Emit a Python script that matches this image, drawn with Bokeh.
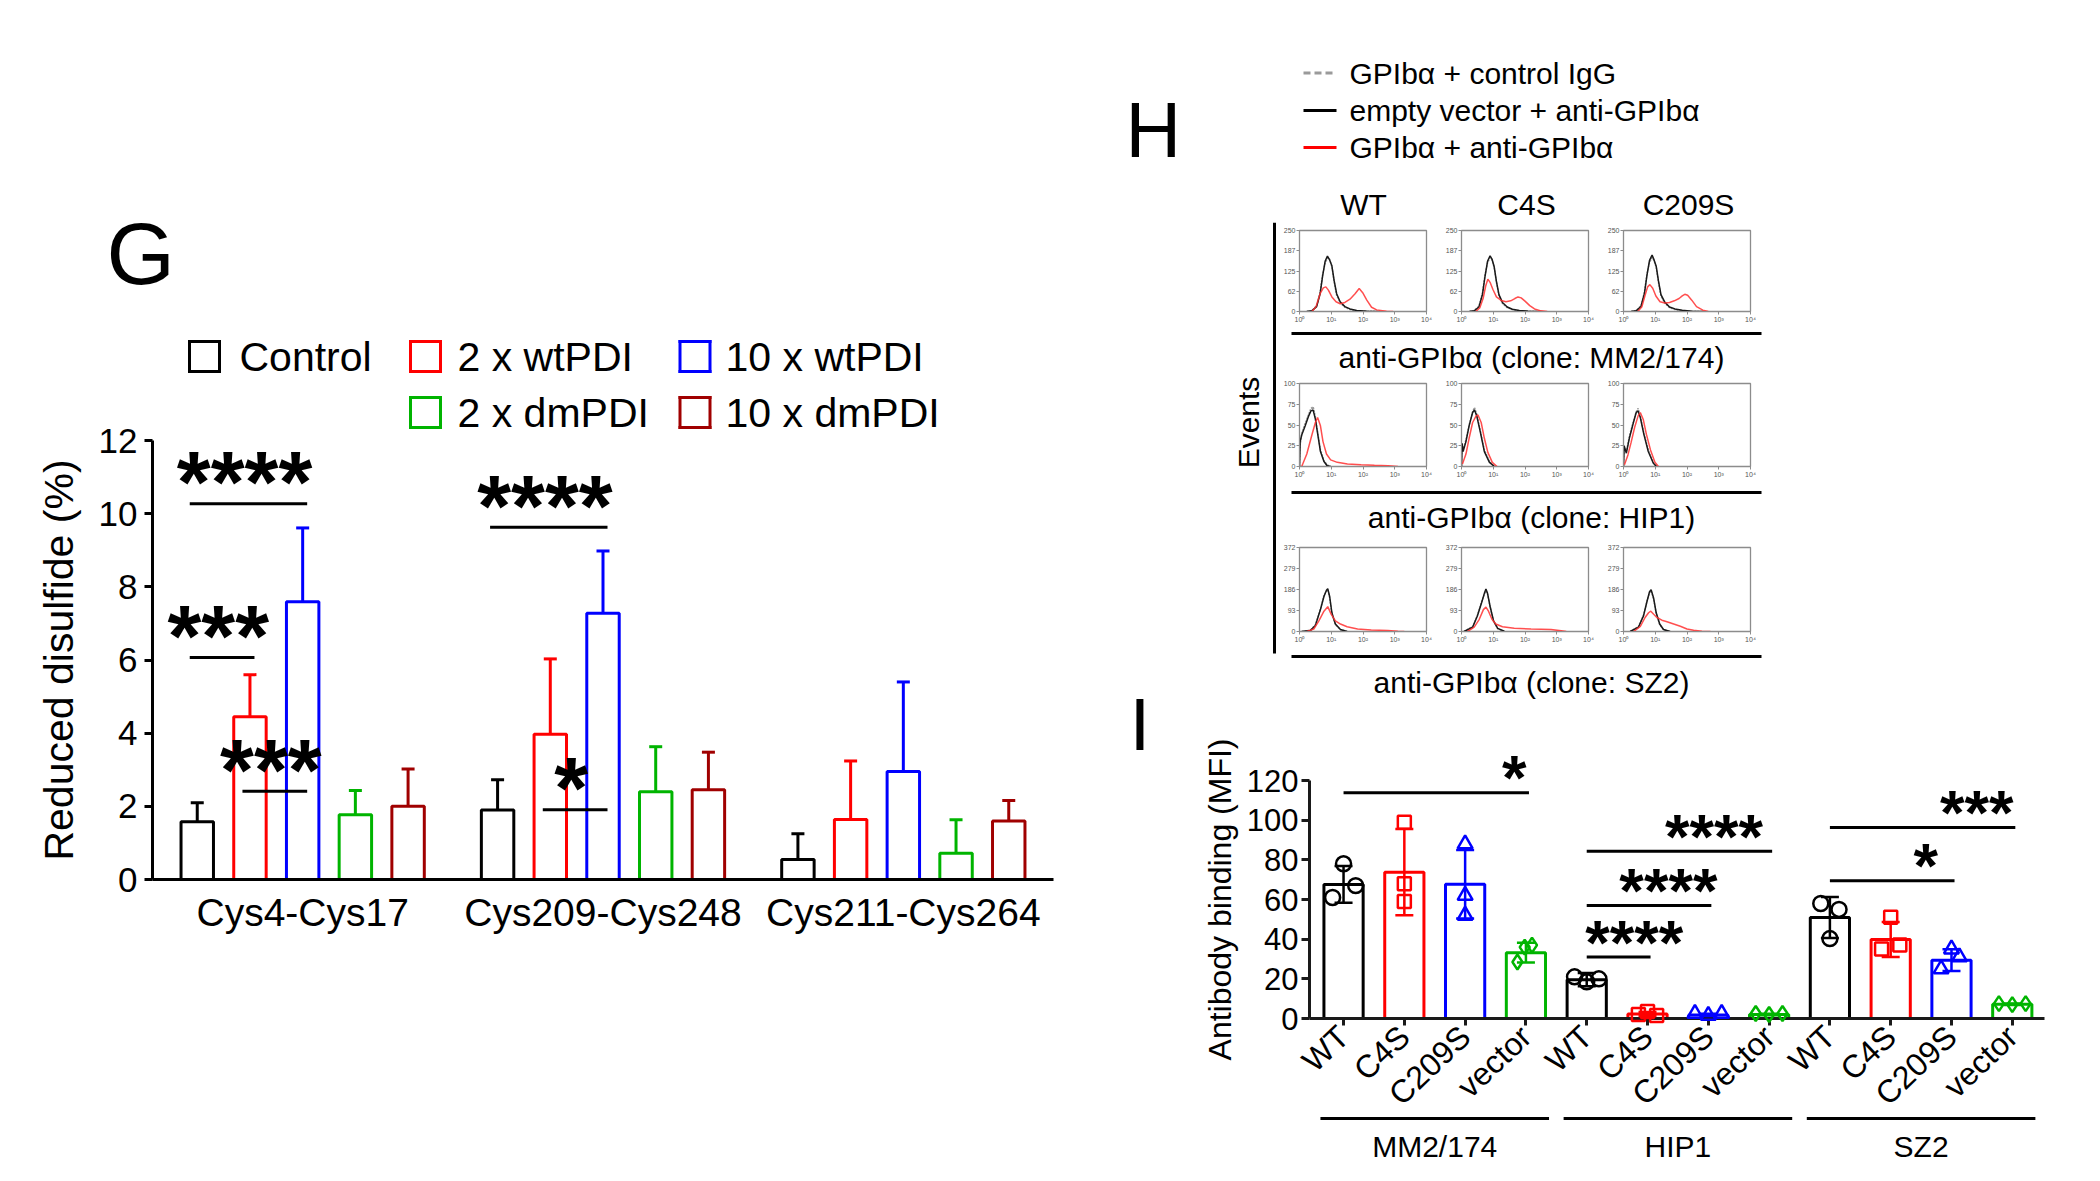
import math
from bokeh.plotting import figure
from bokeh.layouts import row, column
from bokeh.models import ColumnDataSource, FactorRange, Range1d, FixedTicker, Whisker, TeeHead
from bokeh.transform import dodge
from bokeh.core.properties import value
from bokeh.embed import file_html
from bokeh.resources import INLINE

FONT = "Liberation Sans"

# ======================= Panel G data =======================
g_sites = ["Cys4-Cys17", "Cys209-Cys248", "Cys211-Cys264"]
g_groups = ["Control", "2 x wtPDI", "10 x wtPDI", "2 x dmPDI", "10 x dmPDI"]
g_colors = ["#000000", "#ff0000", "#0000ff", "#00b400", "#a00000"]
g_control_mean = [1.58, 1.90, 0.55]
g_control_sd = [0.52, 0.83, 0.70]
g_wt2_mean = [4.45, 3.97, 1.64]
g_wt2_sd = [1.15, 2.06, 1.60]
g_wt10_mean = [7.59, 7.28, 2.95]
g_wt10_sd = [2.02, 1.70, 2.45]
g_dm2_mean = [1.77, 2.40, 0.72]
g_dm2_sd = [0.66, 1.23, 0.91]
g_dm10_mean = [2.00, 2.45, 1.60]
g_dm10_sd = [1.02, 1.03, 0.56]
g_sig_site = ["Cys4-Cys17", "Cys4-Cys17", "Cys4-Cys17", "Cys209-Cys248", "Cys209-Cys248"]
g_sig_from = [0, 0, 1, 0, 1]
g_sig_to = [2, 1, 2, 2, 2]
g_sig_y = [10.27, 6.07, 2.41, 9.63, 1.91]
g_sig_text = ["****", "***", "***", "****", "*"]

# ======================= Panel I data =======================
i_clones = ["MM2/174", "HIP1", "SZ2"]
i_mutants = ["WT", "C4S", "C209S", "vector"]
i_colors = ["#000000", "#ff0000", "#0000ff", "#00b400"]
i_markers = ["circle", "square", "triangle", "diamond"]
i_mean = [67.6, 73.8, 67.7, 33.2, 19.6, 2.3, 1.8, 2.0, 50.9, 39.8, 29.4, 7.2]
i_sd = [9.3, 21.8, 17.3, 5.0, 3.3, 1.0, 0.6, 0.4, 10.3, 8.8, 5.5, 0.4]
i_rep1 = [78, 99, 88, 37, 21, 2.0, 2.5, 2.5, 58, 51, 35, 7.5]
i_rep2 = [67, 68, 62, 36, 18.5, 3.5, 1.5, 2.0, 55, 35, 25, 7.0]
i_rep3 = [61, 59, 52, 28.5, 20, 1.5, 2.5, 2.5, 40.3, 37, 31, 7.5]
i_sig_from = [0, 4, 4, 4, 8, 8]
i_sig_to = [3, 5, 6, 7, 10, 11]
i_sig_y = [113.8, 31, 57, 84.3, 69.5, 96.3]
i_sig_text = ["*", "****", "****", "****", "*", "***"]

# ======================= Panel H data (x = log10 fluorescence) =======================
h_mm2_wt_x = [0.23, 0.39, 0.54, 0.65, 0.73, 0.81, 0.88, 0.94, 1.02, 1.09, 1.17, 1.28, 1.43, 1.59, 1.80, 2.12, 2.53]
h_mm2_wt_vector = [0, 2, 15, 55, 111, 156, 171, 161, 141, 96, 55, 30, 15, 8, 3, 1, 0]
h_mm2_wt_igg = [0, 3, 18, 60, 115, 150, 165, 163, 138, 92, 50, 27, 13, 6, 2, 1, 0]
h_mm2_wt_gp_x = [0.39, 0.52, 0.65, 0.75, 0.83, 0.91, 1.02, 1.15, 1.28, 1.43, 1.59, 1.75, 1.88, 1.99, 2.12, 2.27, 2.43, 2.74, 2.95]
h_mm2_wt_gp = [0, 15, 55, 73, 76, 66, 45, 30, 24, 28, 38, 55, 71, 58, 35, 13, 5, 1, 0]

h_mm2_c4s_x = [0.25, 0.40, 0.55, 0.66, 0.74, 0.82, 0.90, 0.96, 1.03, 1.10, 1.18, 1.29, 1.44, 1.60, 1.82, 2.10, 2.50]
h_mm2_c4s_vector = [0, 2, 14, 52, 108, 155, 172, 162, 138, 93, 52, 28, 14, 7, 3, 1, 0]
h_mm2_c4s_igg = [0, 3, 17, 58, 112, 150, 166, 160, 135, 90, 48, 25, 12, 6, 2, 1, 0]
h_mm2_c4s_gp_x = [0.45, 0.58, 0.68, 0.76, 0.83, 0.90, 0.99, 1.10, 1.25, 1.40, 1.55, 1.68, 1.78, 1.88, 2.00, 2.15, 2.30, 2.50, 2.70]
h_mm2_c4s_gp = [0, 12, 40, 78, 100, 90, 68, 45, 34, 30, 33, 40, 45, 42, 32, 18, 8, 2, 0]

h_mm2_c209s_x = [0.24, 0.40, 0.55, 0.66, 0.74, 0.82, 0.90, 0.96, 1.03, 1.10, 1.18, 1.30, 1.45, 1.62, 1.85, 2.15, 2.50]
h_mm2_c209s_vector = [0, 2, 15, 56, 112, 158, 174, 160, 140, 95, 52, 29, 14, 8, 4, 1, 0]
h_mm2_c209s_igg = [0, 3, 18, 60, 116, 152, 166, 158, 136, 90, 48, 26, 12, 6, 2, 1, 0]
h_mm2_c209s_gp_x = [0.45, 0.58, 0.68, 0.76, 0.83, 0.92, 1.02, 1.15, 1.30, 1.45, 1.60, 1.75, 1.85, 1.93, 2.02, 2.15, 2.30, 2.50, 2.67]
h_mm2_c209s_gp = [0, 15, 50, 76, 83, 72, 48, 30, 26, 28, 33, 40, 48, 53, 50, 35, 15, 4, 0]

h_hip1_wt_x = [0.0, 0.02, 0.07, 0.18, 0.29, 0.36, 0.43, 0.50, 0.57, 0.66, 0.77, 0.87, 0.98]
h_hip1_wt_vector = [0, 30, 38, 49, 61, 67, 68, 57, 40, 18, 6, 1, 0]
h_hip1_wt_igg = [0, 25, 40, 52, 63, 70, 72, 60, 42, 20, 7, 2, 0]
h_hip1_wt_gp_x = [0.07, 0.23, 0.39, 0.50, 0.57, 0.66, 0.74, 0.85, 0.98, 1.19, 1.51, 1.94, 2.36, 2.79, 3.10]
h_hip1_wt_gp = [0, 15, 38, 53, 59, 49, 30, 15, 8, 5, 3, 2, 1.5, 1, 0]

h_hip1_c4s_x = [0.0, 0.02, 0.05, 0.14, 0.24, 0.35, 0.41, 0.48, 0.59, 0.72, 0.88, 1.04]
h_hip1_c4s_vector = [0, 28, 18, 30, 49, 65, 68, 61, 42, 18, 5, 0]
h_hip1_c4s_igg = [0, 25, 20, 32, 50, 66, 71, 63, 44, 20, 6, 0]
h_hip1_c4s_gp_x = [0.03, 0.14, 0.24, 0.35, 0.46, 0.52, 0.62, 0.72, 0.83, 0.97, 1.12]
h_hip1_c4s_gp = [3, 15, 34, 53, 61, 62, 53, 34, 17, 5, 0]

h_hip1_c209s_x = [0.0, 0.02, 0.09, 0.19, 0.30, 0.40, 0.46, 0.53, 0.64, 0.78, 0.94, 1.04]
h_hip1_c209s_vector = [0, 25, 16, 35, 51, 65, 67, 59, 39, 18, 4, 0]
h_hip1_c209s_igg = [0, 22, 18, 37, 53, 66, 70, 61, 41, 20, 5, 0]
h_hip1_c209s_gp_x = [0.03, 0.14, 0.24, 0.35, 0.46, 0.53, 0.62, 0.72, 0.85, 0.99, 1.10]
h_hip1_c209s_gp = [2, 14, 29, 47, 61, 65, 57, 39, 20, 5, 0]

h_sz2_wt_x = [0.07, 0.34, 0.50, 0.66, 0.77, 0.85, 0.89, 0.95, 1.02, 1.13, 1.29, 1.50]
h_sz2_wt_vector = [0, 4, 26, 97, 155, 183, 190, 155, 83, 33, 9, 0]
h_sz2_wt_igg = [0, 6, 30, 100, 160, 180, 185, 150, 80, 30, 8, 0]
h_sz2_wt_gp_x = [0.23, 0.45, 0.61, 0.77, 0.89, 1.00, 1.13, 1.29, 1.50, 1.83, 2.26, 2.78, 3.10, 3.30]
h_sz2_wt_gp = [0, 11, 47, 90, 110, 76, 47, 33, 21, 11, 7, 4, 1, 0]

h_sz2_c4s_x = [0.08, 0.35, 0.50, 0.63, 0.72, 0.77, 0.82, 0.90, 1.01, 1.14, 1.35]
h_sz2_c4s_vector = [0, 19, 69, 126, 169, 188, 169, 112, 47, 14, 1]
h_sz2_c4s_igg = [0, 22, 72, 130, 165, 180, 165, 108, 45, 12, 0]
h_sz2_c4s_gp_x = [0.19, 0.40, 0.56, 0.69, 0.77, 0.85, 0.96, 1.08, 1.29, 1.66, 2.19, 2.82, 3.14, 3.30]
h_sz2_c4s_gp = [0, 19, 54, 97, 108, 90, 54, 33, 21, 14, 11, 9, 3, 0]

h_sz2_c209s_x = [0.21, 0.47, 0.63, 0.74, 0.82, 0.87, 0.95, 1.03, 1.14, 1.26, 1.47]
h_sz2_c209s_vector = [0, 19, 69, 133, 176, 185, 147, 83, 33, 9, 0]
h_sz2_c209s_igg = [0, 22, 72, 136, 172, 180, 143, 80, 30, 8, 0]
h_sz2_c209s_gp_x = [0.32, 0.53, 0.68, 0.79, 0.86, 0.95, 1.05, 1.21, 1.37, 1.58, 1.79, 2.00, 2.21, 2.47, 2.74]
h_sz2_c209s_gp = [0, 23, 62, 83, 90, 76, 62, 50, 43, 33, 23, 11, 6, 1, 0]

h_titles = ["WT", "C4S", "C209S"]
h_clone_labels = ["anti-GPIbα (clone: MM2/174)", "anti-GPIbα (clone: HIP1)", "anti-GPIbα (clone: SZ2)"]
h_legend = ["GPIbα + control IgG", "empty vector + anti-GPIbα", "GPIbα + anti-GPIbα"]
h_mm2_ticks = [0, 62, 125, 187, 250]
h_hip1_ticks = [0, 25, 50, 75, 100]
h_sz2_ticks = [0, 93, 186, 279, 372]
h_x_labels = {0: "10⁰", 1: "10¹", 2: "10²", 3: "10³", 4: "10⁴"}


# ======================= helpers =======================
def txt(p, x, y, s, size, align="left", angle=0.0, style="normal", color="black"):
    p.text(x=[x], y=[y], text=[s], text_font=value(FONT),
           text_font_size=value(f"{size}px"), text_align=value(align),
           text_baseline=value("middle"), angle=angle, text_font_style=value(style),
           text_color=color, level="overlay")


def canvas(w, h):
    p = figure(width=w, height=h, x_range=Range1d(0, w), y_range=Range1d(h, 0),
               x_axis_location=None, y_axis_location=None, toolbar_location=None,
               output_backend="svg", min_border=0)
    p.grid.visible = False
    p.outline_line_color = None
    return p


def style_axis(ax, label_size, width=3, tick_out=8, standoff=5, color="black"):
    ax.axis_line_width = width
    ax.axis_line_color = color
    ax.major_tick_line_width = width
    ax.major_tick_line_color = color
    ax.major_tick_out = tick_out
    ax.major_tick_in = 0
    ax.minor_tick_line_color = None
    ax.major_label_text_font = FONT
    ax.major_label_text_font_size = f"{label_size}px"
    ax.major_label_text_color = "black"
    ax.major_label_standoff = standoff
    ax.axis_label_text_font = FONT
    ax.axis_label_text_font_style = "normal"
    ax.axis_label_text_color = "black"


# ======================= Panel G =======================
GW, GH = 1110, 1175
GL, GT = 152, 440
GFW, GFH = 901, 439
GR = GW - GL - GFW
GB = GH - GT - GFH
G_X0 = GL
G_Y0 = GT + GFH


def gx(px):
    return (px - G_X0) * 3.0 / GFW


def gy(py):
    return (G_Y0 - py) * 12.0 / GFH


pg = figure(width=GW, height=GH, x_range=FactorRange(factors=g_sites, range_padding=0),
            y_range=Range1d(0, 12), toolbar_location=None, output_backend="svg",
            min_border_left=GL, min_border_right=GR, min_border_top=GT, min_border_bottom=GB)
pg.grid.visible = False
pg.outline_line_color = None

G_STEP = 0.1755
G_OFFS = [-2 * G_STEP, -G_STEP, 0.0, G_STEP, 2 * G_STEP]
G_BAR_W = 0.108
g_means = [g_control_mean, g_wt2_mean, g_wt10_mean, g_dm2_mean, g_dm10_mean]
g_sds = [g_control_sd, g_wt2_sd, g_wt10_sd, g_dm2_sd, g_dm10_sd]
for k in range(5):
    src = ColumnDataSource(dict(site=g_sites, mean=g_means[k],
                                top=[m + s for m, s in zip(g_means[k], g_sds[k])]))
    pg.vbar(x=dodge("site", G_OFFS[k], range=pg.x_range), top="mean", width=G_BAR_W,
            source=src, fill_color="white", line_color=g_colors[k], line_width=3)
    pg.add_layout(Whisker(source=src, base=dodge("site", G_OFFS[k], range=pg.x_range),
                          lower="mean", upper="top", line_color=g_colors[k], line_width=3,
                          lower_head=None,
                          upper_head=TeeHead(size=13, line_color=g_colors[k], line_width=3)))

for site, a, b, yv, s in zip(g_sig_site, g_sig_from, g_sig_to, g_sig_y, g_sig_text):
    c = g_sites.index(site) + 0.5
    x0 = c + G_OFFS[a] - 0.025
    x1 = c + G_OFFS[b] + 0.015
    pg.segment(x0=[x0], y0=[yv], x1=[x1], y1=[yv], line_color="black", line_width=3, level="overlay")
    txt(pg, (x0 + x1) / 2 - 0.013, yv + 0.60, s, 87, align="center", style="bold")

# legend (two rows, three columns)
leg_sq_px = [204, 425, 694.5]
leg_tx_px = [239, 457, 725]
leg_row_py = [356, 412]
leg_cells = [(0, 0), (1, 0), (2, 0), (1, 1), (2, 1)]
HS = 15
for k, (cc, rr) in enumerate(leg_cells):
    cx, cy = leg_sq_px[cc], leg_row_py[rr]
    xs0 = [gx(cx - HS), gx(cx + HS), gx(cx + HS), gx(cx - HS)]
    ys0 = [gy(cy - HS), gy(cy - HS), gy(cy + HS), gy(cy + HS)]
    xs1 = [gx(cx + HS), gx(cx + HS), gx(cx - HS), gx(cx - HS)]
    ys1 = [gy(cy - HS), gy(cy + HS), gy(cy + HS), gy(cy - HS)]
    pg.segment(x0=xs0, y0=ys0, x1=xs1, y1=ys1, line_color=g_colors[k], line_width=3,
               line_cap="square", level="overlay")
    txt(pg, gx(leg_tx_px[cc]), gy(cy), g_groups[k], 41)

txt(pg, gx(106), gy(252.5), "G", 88)

ya = pg.yaxis[0]
style_axis(ya, 35, tick_out=8, standoff=7)
ya.ticker = FixedTicker(ticks=[0, 2, 4, 6, 8, 10, 12])
ya.axis_label = "Reduced disulfide (%)"
ya.axis_label_text_font_size = "41px"
ya.axis_label_standoff = 14
xa = pg.xaxis[0]
style_axis(xa, 39, tick_out=0, standoff=11)
xa.major_tick_line_color = None

# ======================= Panel H =======================
RW = 982
IL, IR = 199, 48
HH = 222
header = figure(width=RW, height=HH, x_range=Range1d(IL, RW - IR), y_range=Range1d(HH, 0),
                x_axis_location=None, y_axis_location=None, toolbar_location=None,
                output_backend="svg", min_border_left=IL, min_border_right=IR,
                min_border_top=0, min_border_bottom=0)
header.grid.visible = False
header.outline_line_color = None
txt(header, 15, 129.5, "H", 77)
leg_line_y = [72.5, 110, 147]
leg_styles = [("#9a9a9a", "7 4"), ("#000000", "solid"), ("#ff0000", "solid")]
for (col, dash), ly, lab in zip(leg_styles, leg_line_y, h_legend):
    header.segment(x0=[193], y0=[ly], x1=[226], y1=[ly], line_color=col, line_width=3,
                   line_dash=dash, level="overlay")
    txt(header, 239, ly, lab, 30)
for cx, t in zip([253, 416, 578], h_titles):
    txt(header, cx, 204, t, 30, align="center")

HFW = 128


def hist(xv, yvec, yigg, xg, ygp, ticks, top, frame_h, bottom):
    p = figure(width=18 + HFW + 16, height=top + frame_h + bottom,
               x_range=Range1d(0, 4), y_range=Range1d(0, ticks[-1]),
               min_border_left=18, min_border_right=16, min_border_top=top,
               min_border_bottom=bottom, toolbar_location=None, output_backend="svg")
    p.grid.visible = False
    p.outline_line_color = "#8c8c8c"
    p.outline_line_width = 1.3
    p.line(xv, yigg, line_color="#9a9a9a", line_dash="2 1", line_width=1.5)
    p.line(xv, yvec, line_color="#1a1a1a", line_width=1.5)
    p.line(xg, ygp, line_color="#ff3030", line_width=1.5, line_alpha=0.85)
    for ax in (p.xaxis[0], p.yaxis[0]):
        ax.axis_line_color = "#8c8c8c"
        ax.axis_line_width = 1
        ax.major_tick_line_color = "#8c8c8c"
        ax.major_tick_out = 3
        ax.major_tick_in = 0
        ax.minor_tick_line_color = None
        ax.major_label_text_font = FONT
        ax.major_label_text_font_size = "7px"
        ax.major_label_text_color = "#555555"
        ax.major_label_standoff = 1
    p.yaxis[0].ticker = FixedTicker(ticks=ticks)
    p.xaxis[0].ticker = FixedTicker(ticks=[0, 1, 2, 3, 4])
    p.xaxis[0].major_label_overrides = h_x_labels
    return p


hr1 = row(hist(h_mm2_wt_x, h_mm2_wt_vector, h_mm2_wt_igg, h_mm2_wt_gp_x, h_mm2_wt_gp, h_mm2_ticks, 8, 83, 12),
          hist(h_mm2_c4s_x, h_mm2_c4s_vector, h_mm2_c4s_igg, h_mm2_c4s_gp_x, h_mm2_c4s_gp, h_mm2_ticks, 8, 83, 12),
          hist(h_mm2_c209s_x, h_mm2_c209s_vector, h_mm2_c209s_igg, h_mm2_c209s_gp_x, h_mm2_c209s_gp, h_mm2_ticks, 8, 83, 12))
hr2 = row(hist(h_hip1_wt_x, h_hip1_wt_vector, h_hip1_wt_igg, h_hip1_wt_gp_x, h_hip1_wt_gp, h_hip1_ticks, 6, 85, 12),
          hist(h_hip1_c4s_x, h_hip1_c4s_vector, h_hip1_c4s_igg, h_hip1_c4s_gp_x, h_hip1_c4s_gp, h_hip1_ticks, 6, 85, 12),
          hist(h_hip1_c209s_x, h_hip1_c209s_vector, h_hip1_c209s_igg, h_hip1_c209s_gp_x, h_hip1_c209s_gp, h_hip1_ticks, 6, 85, 12))
hr3 = row(hist(h_sz2_wt_x, h_sz2_wt_vector, h_sz2_wt_igg, h_sz2_wt_gp_x, h_sz2_wt_gp, h_sz2_ticks, 6, 86, 12),
          hist(h_sz2_c4s_x, h_sz2_c4s_vector, h_sz2_c4s_igg, h_sz2_c4s_gp_x, h_sz2_c4s_gp, h_sz2_ticks, 6, 86, 12),
          hist(h_sz2_c209s_x, h_sz2_c209s_vector, h_sz2_c209s_igg, h_sz2_c209s_gp_x, h_sz2_c209s_gp, h_sz2_ticks, 6, 86, 12))


def strip(h, line_y, center_y, label):
    p = canvas(812, h)
    p.segment(x0=[11], y0=[line_y], x1=[481], y1=[line_y], line_color="black", line_width=3)
    if label:
        txt(p, 251, center_y, label, 30, align="center")
    return p


s1 = strip(52, 8, 32, h_clone_labels[0])
s2 = strip(61, 12, 37, h_clone_labels[1])
s3 = strip(17, 11, 0, None)
BLOCK_H = 103 + 52 + 103 + 61 + 104 + 17
events = canvas(170, BLOCK_H)
events.segment(x0=[164], y0=[0], x1=[164], y1=[431], line_color="black", line_width=3)
txt(events, 138, 200, "Events", 30, align="center", angle=math.pi / 2)
hblock = row(events, column(hr1, s1, hr2, s2, hr3, s3))

# ======================= Panel I =======================
I_TOP = HH + BLOCK_H
IW = 982
IT = 780 - I_TOP
IFH = 238
IH = 1173 - I_TOP
IB = IH - IT - IFH
IFW = IW - IL - IR
I_XR = (-0.56, 11.53)
I_X0 = 1110 + IL
I_Y0 = I_TOP + IT + IFH


def ix(px):
    return I_XR[0] + (px - I_X0) * (I_XR[1] - I_XR[0]) / IFW


def iy(py):
    return (I_Y0 - py) * 120.0 / IFH


pi_ = figure(width=IW, height=IH, x_range=Range1d(*I_XR), y_range=Range1d(0, 120),
             toolbar_location=None, output_backend="svg",
             min_border_left=IL, min_border_right=IR, min_border_top=IT, min_border_bottom=IB)
pi_.grid.visible = False
pi_.outline_line_color = None

# clone label of the last flow row sits just above panel I
txt(pi_, ix(1531), iy(682), h_clone_labels[2], 30, align="center")

i_jitter1 = [0.0, 0.0, 0.0, 0.10, -0.2, -0.15, -0.22, -0.22, -0.15, 0.0, 0.0, -0.22]
i_jitter2 = [0.2, 0.0, 0.0, -0.02, 0.0, 0.0, 0.0, 0.0, 0.15, -0.15, -0.17, 0.0]
i_jitter3 = [-0.18, 0.0, 0.0, -0.14, 0.2, 0.15, 0.22, 0.22, 0.0, 0.15, 0.13, 0.22]

for m in range(4):
    idx = [c * 4 + m for c in range(3)]
    src = ColumnDataSource(dict(x=idx, mean=[i_mean[i] for i in idx],
                                lo=[i_mean[i] - i_sd[i] for i in idx],
                                hi=[i_mean[i] + i_sd[i] for i in idx]))
    pi_.vbar(x="x", top="mean", width=0.645, source=src, fill_color=None,
             line_color=i_colors[m], line_width=3)
    pi_.add_layout(Whisker(source=src, base="x", lower="lo", upper="hi",
                           line_color=i_colors[m], line_width=2.5, level="overlay",
                           lower_head=TeeHead(size=18, line_color=i_colors[m], line_width=2.5),
                           upper_head=TeeHead(size=18, line_color=i_colors[m], line_width=2.5)))
    px, py = [], []
    for i in idx:
        for rep, jit in ((i_rep1, i_jitter1), (i_rep2, i_jitter2), (i_rep3, i_jitter3)):
            px.append(i + jit[i])
            py.append(rep[i])
    pi_.scatter(px, py, marker=i_markers[m], size=15 if m != 1 else 13, fill_color="white",
                fill_alpha=0.0, line_color=i_colors[m], line_width=2.5, level="overlay")

i_text_right = [3.01, 5.59, 6.15, 6.90, 9.78, 11.02]
for a, b, yv, s, xr in zip(i_sig_from, i_sig_to, i_sig_y, i_sig_text, i_text_right):
    pi_.segment(x0=[a], y0=[yv], x1=[b + 0.05], y1=[yv], line_color="black", line_width=3, level="overlay")
    txt(pi_, xr, yv + 7.8, s, 63, align="right", style="bold")

for c, lab in enumerate(i_clones):
    first, last = c * 4, c * 4 + 3
    pi_.segment(x0=[first - 0.38], y0=[iy(1118)], x1=[last + 0.38], y1=[iy(1118)],
                line_color="black", line_width=3, level="overlay")
    txt(pi_, (first + last) / 2, iy(1146), lab, 30, align="center")

txt(pi_, ix(1129), iy(723), "I", 75)

iya = pi_.yaxis[0]
style_axis(iya, 31, tick_out=8, standoff=3, color="#1a1a1a")
iya.ticker = FixedTicker(ticks=[0, 20, 40, 60, 80, 100, 120])
iya.axis_label = "Antibody binding (MFI)"
iya.axis_label_text_font_size = "32px"
iya.axis_label_standoff = 6
ixa = pi_.xaxis[0]
style_axis(ixa, 32, width=3, tick_out=7, standoff=6, color="#1a1a1a")
ixa.ticker = FixedTicker(ticks=list(range(12)))
ixa.major_label_overrides = {i: i_mutants[i % 4] for i in range(12)}
ixa.major_label_orientation = 0.76

right = column(header, hblock, pi_)
layout = row(pg, right)

open("out.html", "w").write(file_html(layout, INLINE))
